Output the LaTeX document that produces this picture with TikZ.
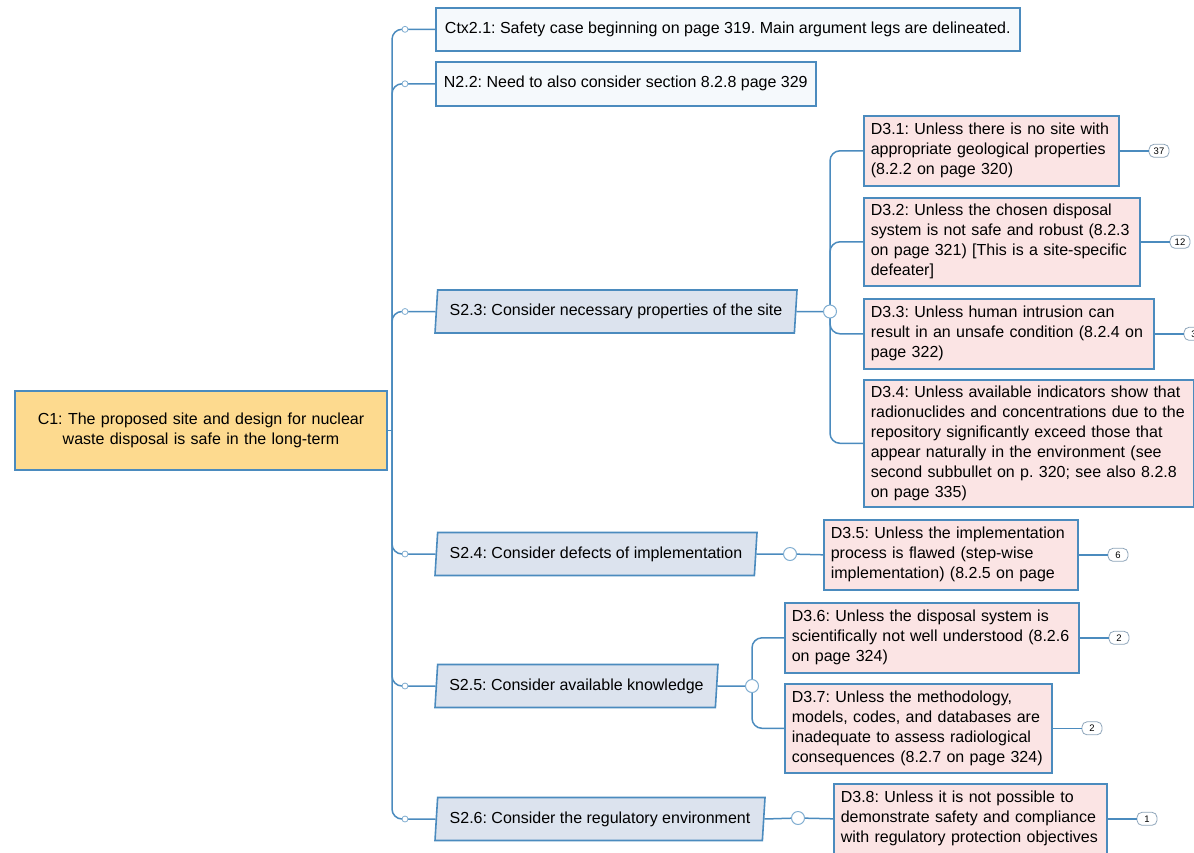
\documentclass[tikz,border=0pt]{standalone}
\usepackage{fontspec}
\setmainfont{Liberation Sans}
\usetikzlibrary{shapes.geometric,positioning,calc}
\definecolor{linkblue}{HTML}{4B8BBE}
\definecolor{claimfill}{HTML}{FDDA8F}
\definecolor{notefill}{HTML}{F5F9FC}
\definecolor{stratfill}{HTML}{DCE3EE}
\definecolor{defeatfill}{HTML}{FBE4E4}
\definecolor{tallygrey}{HTML}{8EA5BA}
\hyphenpenalty=10000
\exhyphenpenalty=10000
\begin{document}
\begin{tikzpicture}[x=1pt,y=-1pt,
  every node/.style={font=\fontsize{16}{20}\selectfont\frenchspacing},
  box/.style={draw=linkblue,line width=1.6pt,anchor=north west,inner xsep=7pt,inner ysep=0pt,align=left},
  defeater/.style={box,fill=defeatfill},
  strat/.style={trapezium,trapezium left angle=80,trapezium right angle=100,trapezium stretches body,
    draw=linkblue,line width=1.6pt,fill=stratfill,inner xsep=4pt,inner ysep=0pt,minimum height=43pt},
  link/.style={draw=linkblue,line width=1.5pt},
  hub/.style={circle,draw=linkblue!70,fill=white,line width=1pt,minimum size=13pt,inner sep=0pt},
  dot/.style={circle,draw=linkblue!70,fill=white,line width=0.8pt,minimum size=6pt,inner sep=0pt},
  tally/.style={draw=tallygrey,fill=white,rounded corners=5pt,line width=0.8pt,minimum width=20pt,
    minimum height=13pt,inner sep=0pt,font=\fontsize{9.5}{9.5}\selectfont,right=29pt of #1}]
\useasboundingbox (0,0) rectangle (1194,852);
\clip (0,0) rectangle (1194,852);
%Claim, context and note
\node[box,fill=claimfill,anchor=center,align=center,text width=358pt,minimum height=79pt] (c1) at (201,430.5)
  {C1: The proposed site and design for nuclear\\waste disposal is safe in the long-term};
\node[box,fill=notefill,inner xsep=5pt,minimum width=584pt,minimum height=43pt] (ctx) at (435,7)
  {Ctx2.1: Safety case beginning on page 319. Main argument legs are delineated.};
\node[box,fill=notefill,inner xsep=5pt,minimum width=380pt,minimum height=44pt] (n22) at (435,61)
  {N2.2: Need to also consider section 8.2.8 page 329};
%Strategies
\node[strat,minimum width=362pt] (s23) at (616,311.5) {S2.3: Consider necessary properties of the site};
\node[strat,minimum width=322pt] (s24) at (596,554) {S2.4: Consider defects of implementation};
\node[strat,minimum width=283pt] (s25) at (576.5,686) {S2.5: Consider available knowledge};
\node[strat,minimum width=330pt] (s26) at (600,819) {S2.6: Consider the regulatory environment};
%Defeaters
\node[defeater,text width=241pt,minimum height=70pt] (d31) at (863,115)
  {D3.1: Unless there is no site with\\appropriate geological properties\\(8.2.2 on page 320)};
\node[defeater,text width=262pt,minimum height=88pt] (d32) at (863,197)
  {D3.2: Unless the chosen disposal\\system is not safe and robust (8.2.3\\on page 321) [This is a site-specific\\defeater]};
\node[defeater,text width=276pt,minimum height=70pt] (d33) at (863,298)
  {D3.3: Unless human intrusion can\\result in an unsafe condition (8.2.4 on\\page 322)};
\node[defeater,text width=316pt,minimum height=127pt] (d34) at (863,379)
  {D3.4: Unless available indicators show that\\radionuclides and concentrations due to the\\repository significantly exceed those that\\appear naturally in the environment (see\\second subbullet on p. 320; see also 8.2.8\\on page 335)};
\node[defeater,text width=240pt,minimum height=70pt] (d35) at (823,519)
  {D3.5: Unless the implementation\\process is flawed (step-wise\\implementation) (8.2.5 on page};
\node[defeater,text width=280pt,minimum height=70pt] (d36) at (784,602)
  {D3.6: Unless the disposal system is\\scientifically not well understood (8.2.6\\on page 324)};
\node[defeater,text width=253pt,minimum height=89pt] (d37) at (784,683)
  {D3.7: Unless the methodology,\\models, codes, and databases are\\inadequate to assess radiological\\consequences (8.2.7 on page 324)};
\node[defeater,text width=259pt,minimum height=70pt] (d38) at (833,783)
  {D3.8: Unless it is not possible to\\demonstrate safety and compliance\\with regulatory protection objectives};
%Spine
\coordinate (spine) at (392,430.5);
\draw[link] (c1.east) -- (spine);
\foreach \n in {ctx,n22,s23,s24,s25,s26} {
  \draw[link,rounded corners=10pt] (spine) |- (\n.west);
  \node[dot] at ($(\n.west -| spine)+(13,0)$) {};
}
%Hubs and branches
\coordinate (h23) at (830,311.5);
\coordinate (h24) at (790,554);
\coordinate (h25) at (752,686);
\coordinate (h26) at (798,818);
\draw[link] (s23.east) -- (h23) (s24.east) -- (h24) (s25.east) -- (h25) (s26.east) -- (h26);
\foreach \d in {d31,d32,d33,d34} \draw[link,rounded corners=10pt] (h23) |- (\d.west);
\draw[link] (h24) -- (d35.west) (h26) -- (d38.west);
\foreach \d in {d36,d37} \draw[link,rounded corners=10pt] (h25) |- (\d.west);
\foreach \h in {h23,h24,h25,h26} \node[hub] at (\h) {};
%Counts
\foreach \d/\k in {d31/37,d32/12,d33/3,d35/6,d36/2,d37/2,d38/1} {
  \node[tally=\d] (t\d) {\k};
  \draw[link] (\d.east) -- (t\d);
}
\end{tikzpicture}
\end{document}
